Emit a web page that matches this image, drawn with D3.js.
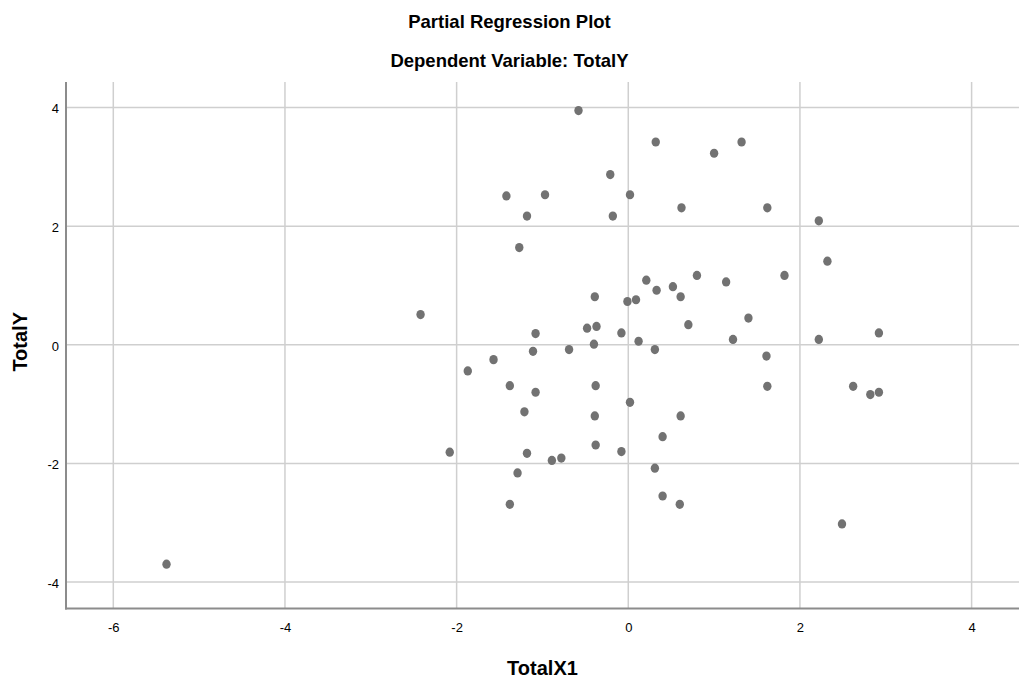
<!DOCTYPE html>
<html>
<head>
<meta charset="utf-8">
<script src="https://cdn.jsdelivr.net/npm/d3@7"></script>
<style>
  html, body { margin: 0; padding: 0; background: #fff; }
  svg { display: block; }
  text { font-family: "Liberation Sans", Arial, sans-serif; fill: #000; }
</style>
</head>
<body>
<svg id="chart" width="1019" height="682"></svg>
<script>
const titleText = "Partial Regression Plot";
const subtitleText = "Dependent Variable: TotalY";
const xLabel = "TotalX1";
const yLabel = "TotalY";

const xTicks = [-6, -4, -2, 0, 2, 4];
const yTicks = [-4, -2, 0, 2, 4];

const xValues = [
  -5.38, -2.42, -2.08, -1.87, -1.57, -1.42, -1.38, -1.38, -1.29, -1.27,
  -1.21, -1.18, -1.18, -1.11, -1.08, -1.08, -0.97, -0.89, -0.78, -0.69,
  -0.58, -0.48, -0.37, -0.39, -0.40, -0.38, -0.39, -0.38, -0.21, -0.18,
  -0.08, -0.08, -0.01, 0.02, 0.02, 0.09, 0.12, 0.21, 0.31, 0.31,
  0.32, 0.33, 0.40, 0.40, 0.52, 0.60, 0.61, 0.61, 0.62, 0.70,
  0.80, 1.00, 1.14, 1.22, 1.32, 1.40, 1.61, 1.62, 1.62, 1.82,
  2.22, 2.22, 2.32, 2.49, 2.62, 2.82, 2.92, 2.92
];
const yValues = [
  -3.70, 0.51, -1.81, -0.44, -0.25, 2.51, -0.69, -2.69, -2.16, 1.64,
  -1.13, 2.17, -1.83, -0.11, 0.19, -0.80, 2.53, -1.95, -1.91, -0.08,
  3.95, 0.28, 0.31, 0.81, 0.01, -0.69, -1.20, -1.69, 2.87, 2.17,
  0.20, -1.80, 0.73, 2.53, -0.97, 0.76, 0.06, 1.09, -0.08, -2.08,
  3.42, 0.92, -1.55, -2.55, 0.98, -2.69, 0.81, -1.20, 2.31, 0.34,
  1.17, 3.23, 1.06, 0.09, 3.42, 0.45, -0.19, 2.31, -0.70, 1.17,
  2.09, 0.09, 1.41, -3.02, -0.70, -0.84, -0.80, 0.20
];

const svg = d3.select("#chart");
const frame = { left: 66, right: 1019, top: 82, bottom: 608.5 };

const x = d3.scaleLinear().domain([-6, 4]).range([113.3, 971.6]);
const y = d3.scaleLinear().domain([-4, 4]).range([582, 107.6]);

const gridColor = "#cfcfcf";
const axisColor = "#8c8c8c";
const fmt = d => String(d);

// gridlines
svg.append("g").selectAll("line").data(xTicks).join("line")
  .attr("x1", d => x(d)).attr("x2", d => x(d))
  .attr("y1", frame.top).attr("y2", frame.bottom)
  .attr("stroke", gridColor).attr("stroke-width", 1.5);
svg.append("g").selectAll("line").data(yTicks).join("line")
  .attr("x1", frame.left).attr("x2", frame.right)
  .attr("y1", d => y(d)).attr("y2", d => y(d))
  .attr("stroke", gridColor).attr("stroke-width", 1.5);

// axes
const xAxis = d3.axisBottom(x).tickValues(xTicks).tickSize(0).tickPadding(0).tickFormat(fmt);
const gx = svg.append("g").attr("transform", `translate(0,${frame.bottom})`).call(xAxis);
gx.select(".domain").remove();
gx.selectAll("text").attr("y", 23).attr("dy", 0)
  .style("font-size", "13px").style("font-family", "'Liberation Sans', Arial, sans-serif");

const yAxis = d3.axisLeft(y).tickValues(yTicks).tickSize(0).tickPadding(0).tickFormat(fmt);
const gy = svg.append("g").attr("transform", `translate(${frame.left},0)`).call(yAxis);
gy.select(".domain").remove();
gy.selectAll("text").attr("x", -7).attr("dy", "0.4em")
  .style("font-size", "13px").style("font-family", "'Liberation Sans', Arial, sans-serif");

svg.append("line").attr("x1", frame.left).attr("x2", frame.left)
  .attr("y1", frame.top).attr("y2", frame.bottom + 1)
  .attr("stroke", axisColor).attr("stroke-width", 2);
svg.append("line").attr("x1", frame.left - 1).attr("x2", frame.right)
  .attr("y1", frame.bottom).attr("y2", frame.bottom)
  .attr("stroke", axisColor).attr("stroke-width", 2);

// points
const pts = xValues.map((v, i) => ({ x: v, y: yValues[i] }));
svg.append("g").selectAll("ellipse").data(pts).join("ellipse")
  .attr("cx", d => x(d.x)).attr("cy", d => y(d.y))
  .attr("rx", 4.2).attr("ry", 4.6)
  .attr("fill", "#727272");

// titles
svg.append("text").attr("x", 509.5).attr("y", 28).attr("text-anchor", "middle")
  .style("font-size", "18.5px").style("font-weight", "bold").text(titleText);
svg.append("text").attr("x", 509.5).attr("y", 67).attr("text-anchor", "middle")
  .style("font-size", "18.5px").style("font-weight", "bold").text(subtitleText);

svg.append("text").attr("x", (frame.left + frame.right) / 2).attr("y", 675).attr("text-anchor", "middle")
  .style("font-size", "20px").style("font-weight", "bold").text(xLabel);
svg.append("text").attr("transform", `translate(27,${y(0) - 3}) rotate(-90)`).attr("text-anchor", "middle")
  .style("font-size", "20px").style("font-weight", "bold").text(yLabel);
</script>
</body>
</html>
